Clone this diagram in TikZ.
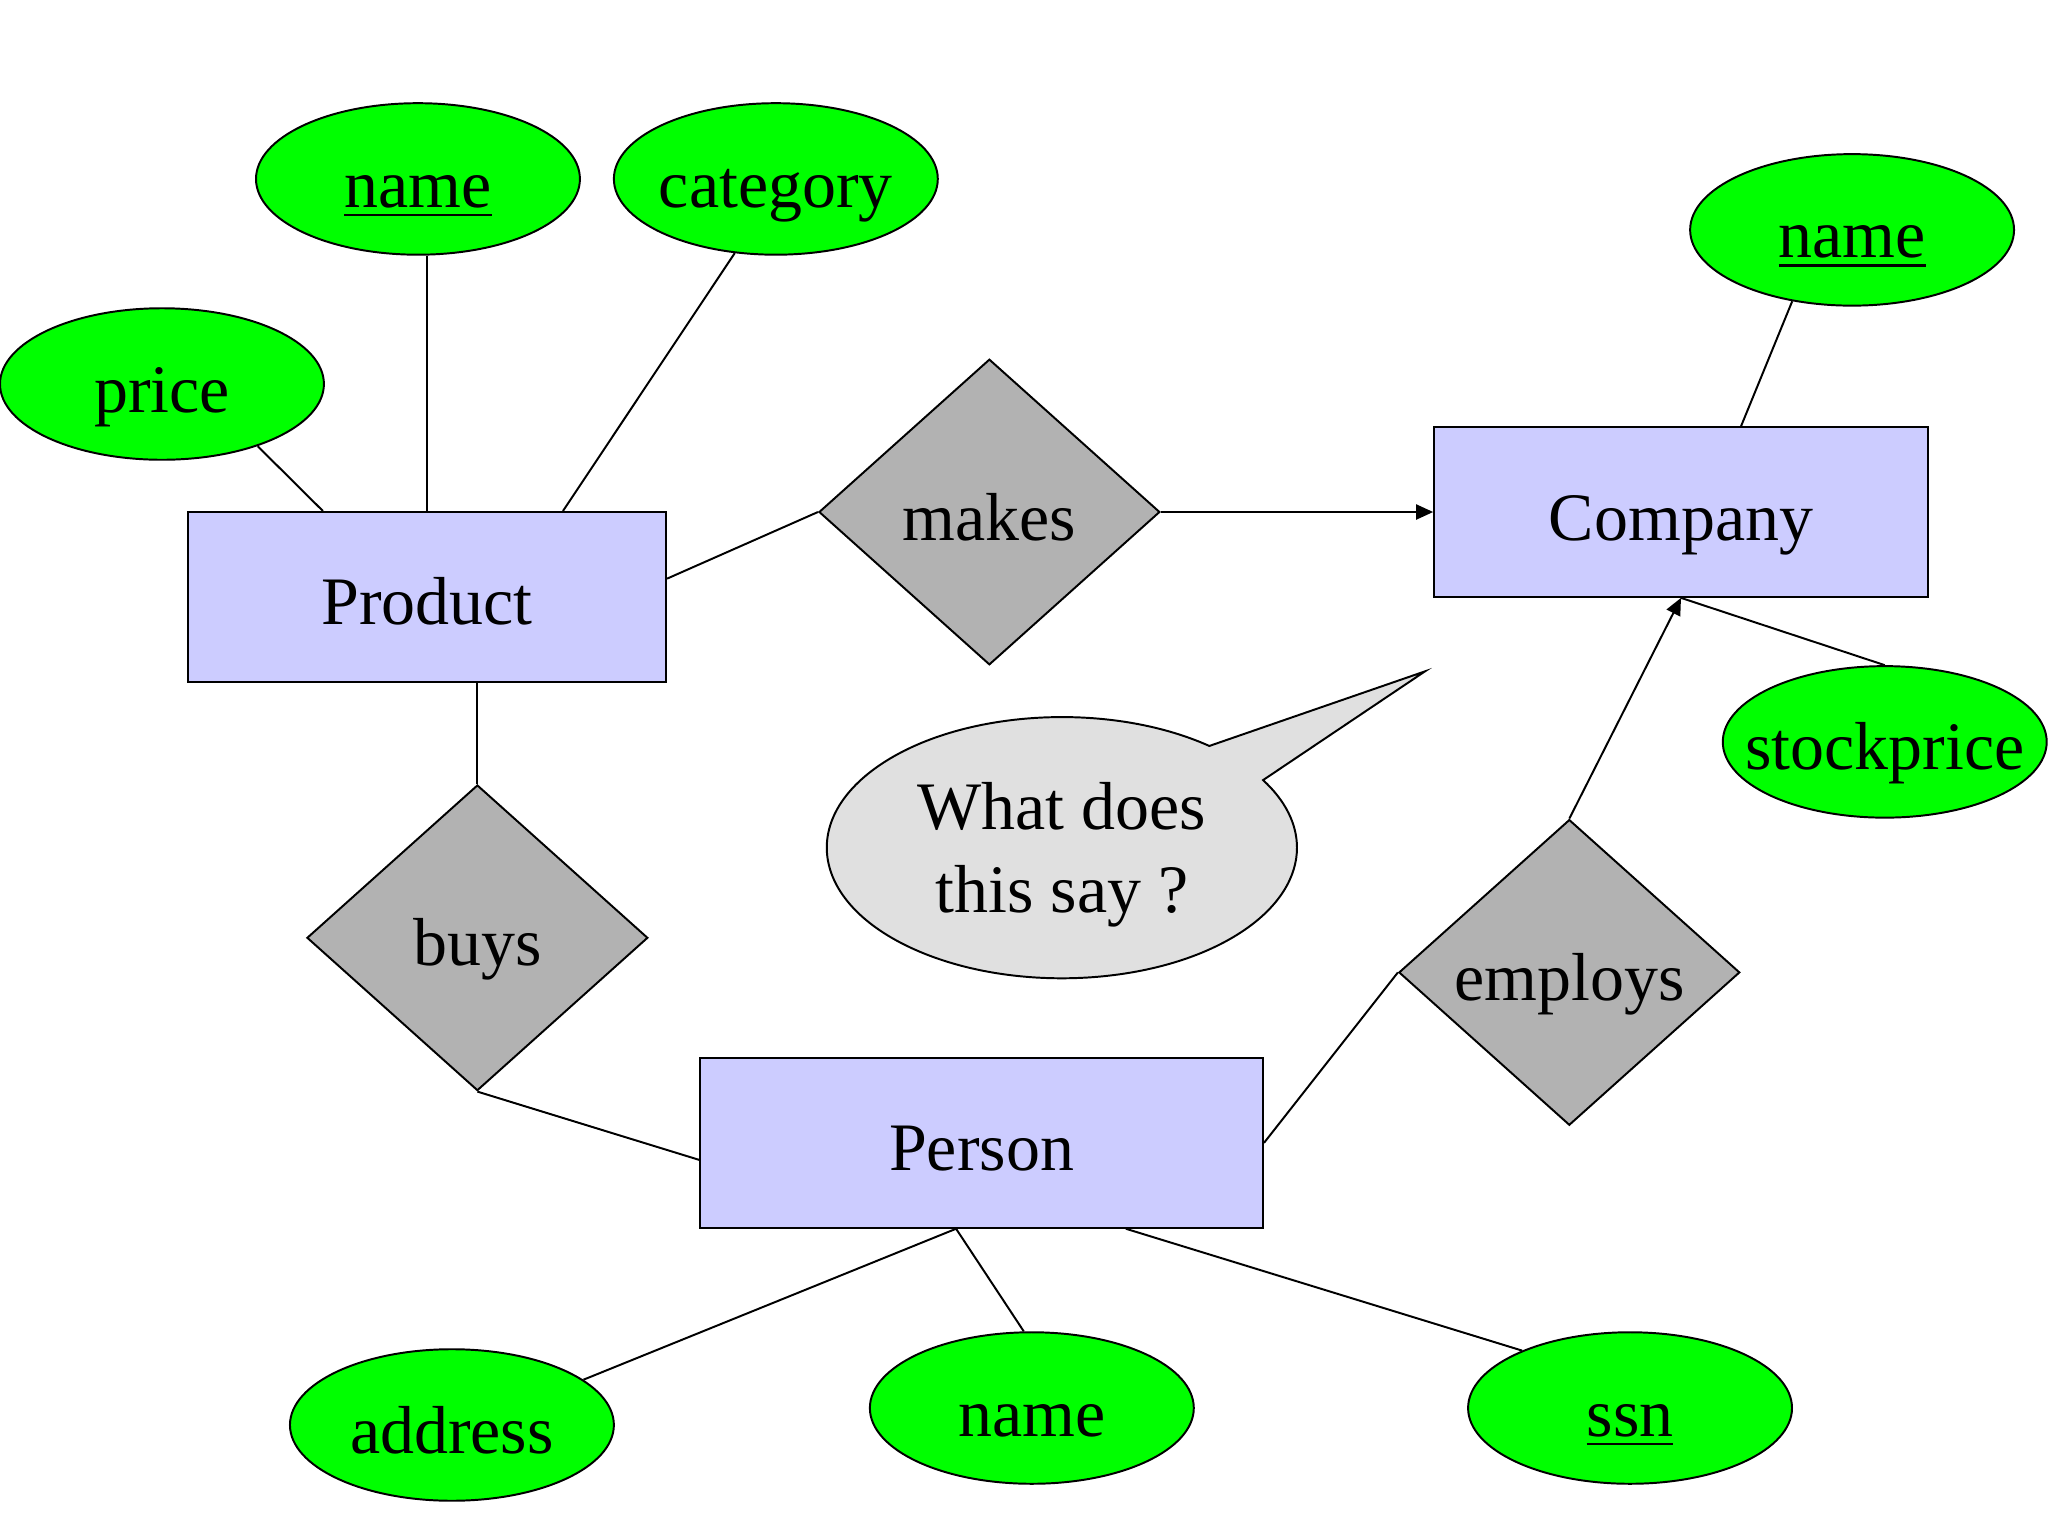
\documentclass[tikz,border=0pt]{standalone}
\usepackage{fontspec}
\setmainfont{Liberation Serif}
\usetikzlibrary{shapes.geometric,shapes.callouts,arrows.meta,calc}
\definecolor{entfill}{RGB}{204,204,255}
\definecolor{attrfill}{RGB}{0,255,0}
\definecolor{relfill}{RGB}{178,178,178}
\definecolor{notefill}{RGB}{224,224,224}
\newcommand{\keyattr}[1]{{\setbox0\hbox{#1}\rlap{\rule[-7pt]{\wd0}{2pt}}\box0}}
\newcommand{\attrtext}[1]{\makebox[0pt]{#1}}
\begin{document}
\begin{tikzpicture}[x=1pt,y=-1pt,
  every node/.style={font=\fontsize{52}{63.5}\selectfont, inner sep=0pt, line width=1.5pt},
  base/.style={draw, text height=43pt, text depth=0pt},
  entity/.style={base, rectangle, fill=entfill, minimum height=130pt},
  attr/.style={base, ellipse, fill=attrfill, minimum width=248pt, minimum height=116pt},
  rel/.style={base, diamond, fill=relfill, minimum width=261pt, minimum height=234pt},
  link/.style={line width=1.5pt},
  arr/.style={link, -{Triangle[length=13pt,width=11.5pt]}}]
\useasboundingbox (0,0) rectangle (1568,1176);
% entities
\node[entity, minimum width=366pt] (product) at (327,457) {Product};
\node[entity, minimum width=378pt] (company) at (1287,392) {Company};
\node[entity, minimum width=431pt] (person) at (751.5,875) {Person};
% relationships
\node[rel] (makes) at (757.5,392) {makes};
\node[rel] (buys) at (365.5,718) {buys};
\node[rel] (employs) at (1201.5,744.5) {employs};
% attributes
\node[attr] (pname) at (320,137) {\attrtext{\keyattr{name}}};
\node[attr] (cat) at (594,137) {\attrtext{category}};
\node[attr] (price) at (124,294) {\attrtext{price}};
\node[attr] (cname) at (1418,176) {\attrtext{\keyattr{name}}};
\node[attr] (stock) at (1443,568) {\attrtext{stockprice}};
\node[attr] (addr) at (346,1091) {\attrtext{address}};
\node[attr] (perna) at (790,1078) {\attrtext{name}};
\node[attr] (ssn) at (1248,1078) {\attrtext{\keyattr{ssn}}};
% callout
\node[ellipse callout, draw, fill=notefill, minimum width=360pt, minimum height=200pt,
      align=center, text depth=-7pt, callout absolute pointer={(1091,514)},
      callout pointer arc=20] (note) at (813,649) {What does\\this say ?};
% connectors
\draw[link] (price.-33) -- ($(product.north west)+(104,0)$);
\draw[link] (product.north) -- (product.north |- pname.south);
\draw[link] (cat.-119) -- ($(product.north)+(104,0)$);
\draw[link] ($(product.east)+(0,-14)$) -- (makes.west);
\draw[arr] (makes.east) -- (company.west);
\draw[link] (cname.-130) -- ($(company.north)+(46,0)$);
\draw[link] (stock.north) -- (company.south);
\draw[arr] (employs.north) -- (company.south);
\draw[link] (person.east) -- (employs.west);
\draw[link] (buys.north) -- (buys.north |- product.south);
\draw[link] (buys.south) -- ($(person.west)+(0,13)$);
\draw[link] ($(person.south)+(-19.5,0)$) -- (addr.19);
\draw[link] ($(person.south)+(-19.5,0)$) -- (perna.96);
\draw[link] ($(person.south)+(110.5,0)$) -- (ssn.152);
\end{tikzpicture}
\end{document}
